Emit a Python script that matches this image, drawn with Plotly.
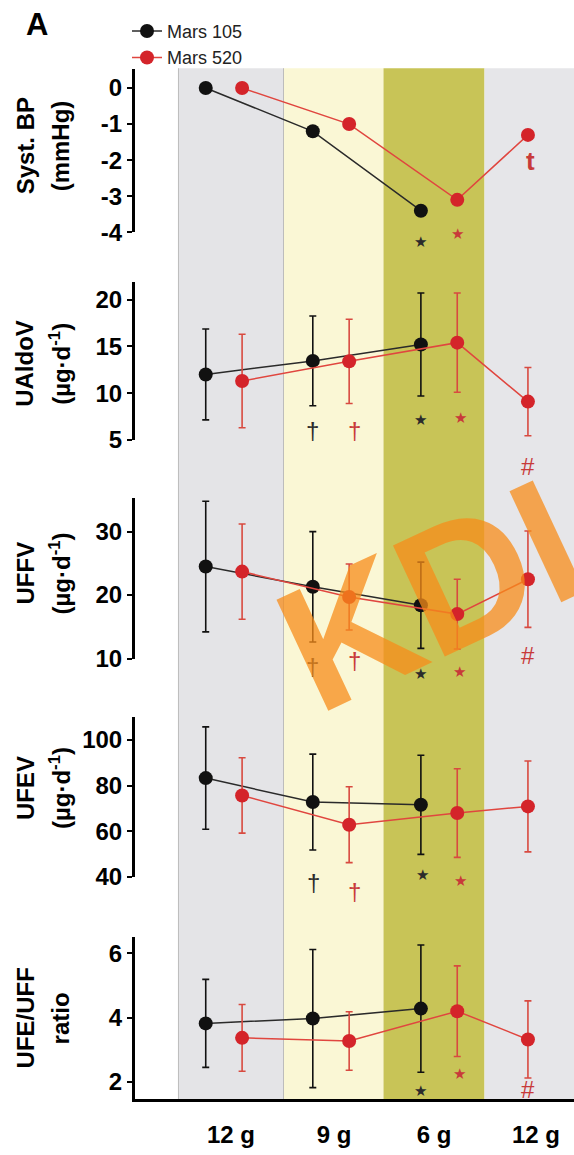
import plotly.graph_objects as go

W, H = 574, 1155

# ---------------- data ----------------
phases = ["12 g", "9 g", "6 g", "12 g"]
phase_tick_pos = [0.98, 2.0, 2.99, 4.0]
band_edges = [0.46, 1.5, 2.49, 3.49, 4.38]
band_colors = ["#e4e4e7", "#faf7d5", "#c8c457", "#e6e6e9"]

x_105 = [0.73, 1.79, 2.86]
x_520 = [1.09, 2.15, 3.22, 3.92]

bp_105 = [0.0, -1.2, -3.4]
bp_520 = [0.0, -1.0, -3.1, -1.3]

ualdo_105 = [12.0, 13.45, 15.2]
ualdo_105_err = [4.85, 4.8, 5.5]
ualdo_520 = [11.3, 13.4, 15.4, 9.1]
ualdo_520_err = [5.0, 4.5, 5.3, 3.65]

uffv_105 = [24.5, 21.3, 18.4]
uffv_105_err = [10.3, 8.7, 6.8]
uffv_520 = [23.7, 19.7, 17.0, 22.5]
uffv_520_err = [7.5, 5.2, 5.5, 7.6]

ufev_105 = [83.3, 72.8, 71.6]
ufev_105_err = [22.4, 21.0, 21.7]
ufev_520 = [75.7, 62.9, 68.0, 70.9]
ufev_520_err = [16.5, 16.6, 19.4, 19.9]

ratio_105 = [3.82, 3.97, 4.28]
ratio_105_err = [1.37, 2.15, 1.98]
ratio_520 = [3.37, 3.27, 4.2, 3.32]
ratio_520_err = [1.04, 0.91, 1.41, 1.2]

panel_titles = [
    ("Syst. BP", "(mmHg)"),
    ("UAldoV", "(µg·d<sup>-1</sup>)"),
    ("UFFV", "(µg·d<sup>-1</sup>)"),
    ("UFEV", "(µg·d<sup>-1</sup>)"),
    ("UFE/UFF", "ratio"),
]
panel_ticks = [
    [0, -1, -2, -3, -4],
    [5, 10, 15, 20],
    [10, 20, 30],
    [40, 60, 80, 100],
    [2, 4, 6],
]
panel_ranges = [[-4.0, 0.52], [5, 21.9], [10, 35.25], [40, 110.1], [1.45, 6.5]]

# significance markers: (panel, x, y, text, group)
sig_marks = [
    (0, 2.86, -4.27, "★", "105"), (0, 3.22, -4.05, "★", "520"), (0, 3.95, -2.03, "t", "520b"),
    (1, 1.79, 6.06, "†", "105"), (1, 2.2, 6.06, "†", "520"), (1, 2.86, 7.1, "★", "105"),
    (1, 3.25, 7.3, "★", "520"), (1, 3.92, 2.15, "#", "520"),
    (2, 1.79, 8.7, "†", "105"), (2, 2.2, 9.7, "†", "520"), (2, 2.86, 7.6, "★", "105"),
    (2, 3.24, 7.9, "★", "520"), (2, 3.92, 10.5, "#", "520"),
    (3, 1.8, 37.4, "†", "105"), (3, 2.2, 33.8, "†", "520"), (3, 2.88, 41.0, "★", "105"),
    (3, 3.25, 38.1, "★", "520"),
    (4, 2.86, 1.71, "★", "105"), (4, 3.24, 2.23, "★", "520"), (4, 3.92, 1.76, "#", "520"),
]

# ---------------- layout geometry (pixels) ----------------
panel_px = [(70, 235), (285, 445), (504, 666), (725, 887), (948, 1112)]
title_centers = [148, 368, 580, 797, 1030]
band_top_px, band_bot_px = 69, 1112
x_dom_left_px = 135
x_range = [0.0297, 4.376]

BLACK = "#111111"
RED = "#d4242a"
RED_LINE = "#e0463f"
RED_ERR = "#d84a40"
FONT = "Liberation Sans, Arial, sans-serif"


def py2paper(py):
    return 1 - py / H


def val2paper(i, v):
    top, bot = panel_px[i]
    r0, r1 = panel_ranges[i]
    py = bot - (v - r0) / (r1 - r0) * (bot - top)
    return py2paper(py)


fig = go.Figure()

series = [
    (bp_105, None, bp_520, None),
    (ualdo_105, ualdo_105_err, ualdo_520, ualdo_520_err),
    (uffv_105, uffv_105_err, uffv_520, uffv_520_err),
    (ufev_105, ufev_105_err, ufev_520, ufev_520_err),
    (ratio_105, ratio_105_err, ratio_520, ratio_520_err),
]

for i, (y105, e105, y520, e520) in enumerate(series):
    yax = "y" if i == 0 else f"y{i+1}"
    fig.add_trace(go.Scatter(
        x=x_105, y=y105, mode="lines+markers", name="Mars 105",
        showlegend=(i == 0), xaxis="x", yaxis=yax, cliponaxis=False,
        line=dict(color="#2a2a2a", width=1.5),
        marker=dict(color=BLACK, size=14),
        error_y=dict(type="data", array=e105, visible=e105 is not None,
                     color=BLACK, thickness=1.6, width=3.5),
    ))
    fig.add_trace(go.Scatter(
        x=x_520, y=y520, mode="lines+markers", name="Mars 520",
        showlegend=(i == 0), xaxis="x", yaxis=yax, cliponaxis=False,
        line=dict(color=RED_LINE, width=1.5),
        marker=dict(color=RED, size=14),
        error_y=dict(type="data", array=e520, visible=e520 is not None,
                     color=RED_ERR, thickness=1.6, width=3.5),
    ))

layout = dict(
    width=W, height=H,
    margin=dict(l=0, r=0, t=0, b=0),
    paper_bgcolor="white",
    plot_bgcolor="rgba(0,0,0,0)",
    font=dict(family=FONT, color="black"),
    showlegend=True,
    legend=dict(x=127 / W, y=py2paper(13), xanchor="left", yanchor="top",
                bgcolor="rgba(0,0,0,0)", font=dict(size=18, family=FONT, color="#222"),
                itemwidth=30, tracegroupgap=0),
    xaxis=dict(domain=[x_dom_left_px / W, 1], range=x_range, anchor="y5",
               showline=True, linewidth=3, linecolor="black", ticks="",
               ticklabelstandoff=12,
               tickvals=phase_tick_pos, ticktext=phases, showgrid=False, zeroline=False,
               tickfont=dict(size=24, family=FONT, weight="bold", color="black")),
)
for i in range(5):
    key = "yaxis" if i == 0 else f"yaxis{i+1}"
    top, bot = panel_px[i]
    layout[key] = dict(
        domain=[py2paper(bot), py2paper(top)], range=panel_ranges[i], anchor="x",
        showline=True, linewidth=3, linecolor="black", ticks="outside", ticklen=5,
        tickwidth=2, tickcolor="black", showgrid=False, zeroline=False,
        tickvals=panel_ticks[i], ticktext=[str(t) for t in panel_ticks[i]],
        tickfont=dict(size=24, family=FONT, weight="bold", color="black"),
    )
fig.update_layout(**layout)

# background bands
shapes = []
for j in range(4):
    shapes.append(dict(type="rect", xref="x", yref="paper",
                       x0=band_edges[j], x1=band_edges[j + 1],
                       y0=py2paper(band_bot_px), y1=py2paper(band_top_px),
                       fillcolor=band_colors[j], line=dict(width=0), layer="below"))
for xe in [band_edges[0], band_edges[1]]:
    shapes.append(dict(type="line", xref="x", yref="paper", x0=xe, x1=xe,
                       y0=py2paper(band_bot_px), y1=py2paper(band_top_px),
                       line=dict(color="#bcbcbc", width=1), layer="below"))
fig.update_layout(shapes=shapes)

annotations = []
# panel titles
for i, (l1, l2) in enumerate(panel_titles):
    for txt, cx in [(l1, 25), (l2, 60)]:
        annotations.append(dict(text=txt, xref="paper", yref="paper", x=cx / W,
                                y=py2paper(title_centers[i]), xanchor="center", yanchor="middle",
                                textangle=-90, showarrow=False,
                                font=dict(size=24, family=FONT, weight="bold", color="black")))
# panel letter
annotations.append(dict(text="A", xref="paper", yref="paper", x=37 / W, y=py2paper(25),
                        xanchor="center", yanchor="middle", showarrow=False,
                        font=dict(size=31, family=FONT, weight="bold", color="black")))
# significance markers
for (i, xv, yv, t, grp) in sig_marks:
    col = "#2b2b2b" if grp == "105" else "#c83a3a"
    if t == "★":
        f = dict(size=15, family="DejaVu Sans", color=col)
    elif t == "t":
        f = dict(size=26, family=FONT, weight="bold", color=col)
    else:
        f = dict(size=24, family=FONT, color=col)
    annotations.append(dict(text=t, xref="x", yref="paper", x=xv, y=val2paper(i, yv),
                            xanchor="center", yanchor="middle", showarrow=False, font=f))
# watermark
annotations.append(dict(text="KDI", xref="paper", yref="paper", x=430 / W, y=py2paper(602),
                        xanchor="center", yanchor="middle", showarrow=False, textangle=-25,
                        font=dict(size=178, family=FONT, weight="bold",
                                  color="rgba(247,140,25,0.75)")))
fig.update_layout(annotations=annotations)

fig.write_html("out.html")
